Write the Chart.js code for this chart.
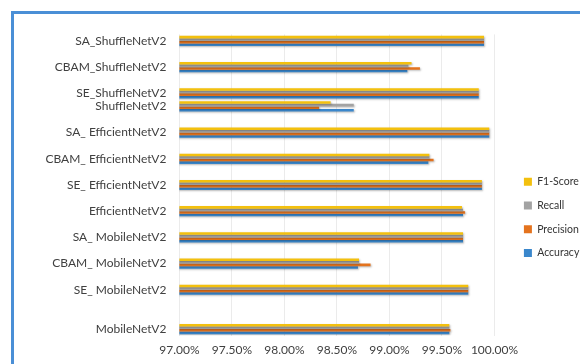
<!DOCTYPE html>
<html>
<head>
<meta charset="utf-8">
<script src="https://cdn.jsdelivr.net/npm/chart.js@4/dist/chart.umd.min.js"></script>
<style>
  html, body { margin: 0; padding: 0; background: #ffffff; overflow: hidden; width: 580px; height: 364px; }
  #frame { position: absolute; left: 11px; top: 11px; width: 620px; height: 420px; border: 3px solid #4a8fd6; box-sizing: border-box; }
  #wrap { position: absolute; left: 0; top: 0; width: 600px; height: 364px; }
</style>
</head>
<body>
<div id="frame"></div>
<div id="wrap"><canvas id="c" width="600" height="364"></canvas></div>
<script>
// ---- data (top to bottom as in the picture) ----
const categories = [
  'SA_ShuffleNetV2', 'CBAM_ShuffleNetV2', 'SE_ShuffleNetV2', 'ShuffleNetV2',
  'SA_ EfficientNetV2', 'CBAM_ EfficientNetV2', 'SE_ EfficientNetV2', 'EfficientNetV2',
  'SA_ MobileNetV2', 'CBAM_ MobileNetV2', 'SE_ MobileNetV2', 'MobileNetV2'
];
const accuracy  = [99.90, 99.17, 99.85, 98.66, 99.95, 99.37, 99.88, 99.70, 99.70, 98.70, 99.75, 99.57];
const precision = [99.90, 99.29, 99.85, 98.33, 99.95, 99.42, 99.88, 99.72, 99.70, 98.82, 99.75, 99.58];
const recall    = [99.90, 99.18, 99.85, 98.66, 99.95, 99.38, 99.88, 99.70, 99.70, 98.71, 99.75, 99.57];
const f1score   = [99.90, 99.21, 99.85, 98.44, 99.95, 99.38, 99.88, 99.69, 99.70, 98.71, 99.75, 99.57];
const xTicks    = [97.0, 97.5, 98.0, 98.5, 99.0, 99.5, 100.0];

// layout: empty half-row slots placed before each category (as in the original figure)
const spacersBefore = [0, 1, 1, 0, 1, 1, 1, 1, 1, 1, 1, 2];

// build slotted label / value tables
const slotLabels = [];
const slotIndex = [];
categories.forEach((name, i) => {
  for (let s = 0; s < spacersBefore[i]; s++) { slotLabels.push(''); slotIndex.push(-1); }
  slotLabels.push(name); slotIndex.push(i);
});
const slotted = arr => slotIndex.map(i => (i < 0 ? null : arr[i]));

const FONT = 'Lato, "Liberation Sans", sans-serif';

const shadowPlugin = {
  id: 'barShadow',
  beforeDatasetsDraw(chart) {
    const ctx = chart.ctx;
    ctx.save();
    ctx.shadowColor = 'rgba(0,0,0,0.28)';
    ctx.shadowBlur = 2;
    ctx.shadowOffsetX = 1;
    ctx.shadowOffsetY = 1;
  },
  afterDatasetsDraw(chart) { chart.ctx.restore(); }
};

new Chart(document.getElementById('c'), {
  type: 'bar',
  data: {
    labels: slotLabels,
    datasets: [
      { label: 'F1-Score',  data: slotted(f1score),   backgroundColor: '#f3c00e' },
      { label: 'Recall',    data: slotted(recall),    backgroundColor: '#a3a3a3' },
      { label: 'Precision', data: slotted(precision), backgroundColor: '#e4731e' },
      { label: 'Accuracy',  data: slotted(accuracy),  backgroundColor: '#3a87cc' }
    ]
  },
  plugins: [shadowPlugin],
  options: {
    indexAxis: 'y',
    responsive: false,
    animation: false,
    devicePixelRatio: 1,
    layout: { padding: { left: 0, right: 10.7, top: 34.4, bottom: 0 } },
    datasets: { bar: { categoryPercentage: 0.78, barPercentage: 1.0, borderWidth: 0 } },
    scales: {
      x: {
        type: 'linear',
        min: 97, max: 100,
        afterBuildTicks(scale) { scale.ticks = xTicks.map(v => ({ value: v })); },
        grid: { color: '#ebebeb', drawTicks: false },
        border: { display: false },
        ticks: {
          padding: 7,
          maxRotation: 0,
          minRotation: 0,
          color: '#404040',
          font: { family: FONT, size: 12 },
          callback: v => Number(v).toFixed(2) + '%'
        }
      },
      y: {
        type: 'category',
        grid: { display: false, drawTicks: false },
        border: { display: false },
        afterFit(scale) { scale.width = 179.4; },
        ticks: {
          autoSkip: false,
          padding: 13,
          color: '#404040',
          font: { family: FONT, size: 12 }
        }
      },
      gap: {
        type: 'linear',
        axis: 'y',
        position: 'right',
        display: true,
        grid: { display: false, drawTicks: false },
        border: { display: false },
        ticks: { display: false },
        afterFit(scale) { scale.width = 16.2; }
      }
    },
    plugins: {
      tooltip: { enabled: false },
      legend: {
        position: 'right',
        align: 'center',
        title: { display: true, text: '', padding: { top: 22, bottom: 0 }, font: { size: 12 } },
        labels: {
          boxWidth: 8,
          boxHeight: 8,
          padding: 13.2,
          color: '#333333',
          font: { family: FONT, size: 10.5 }
        }
      }
    }
  }
});
</script>
</body>
</html>
